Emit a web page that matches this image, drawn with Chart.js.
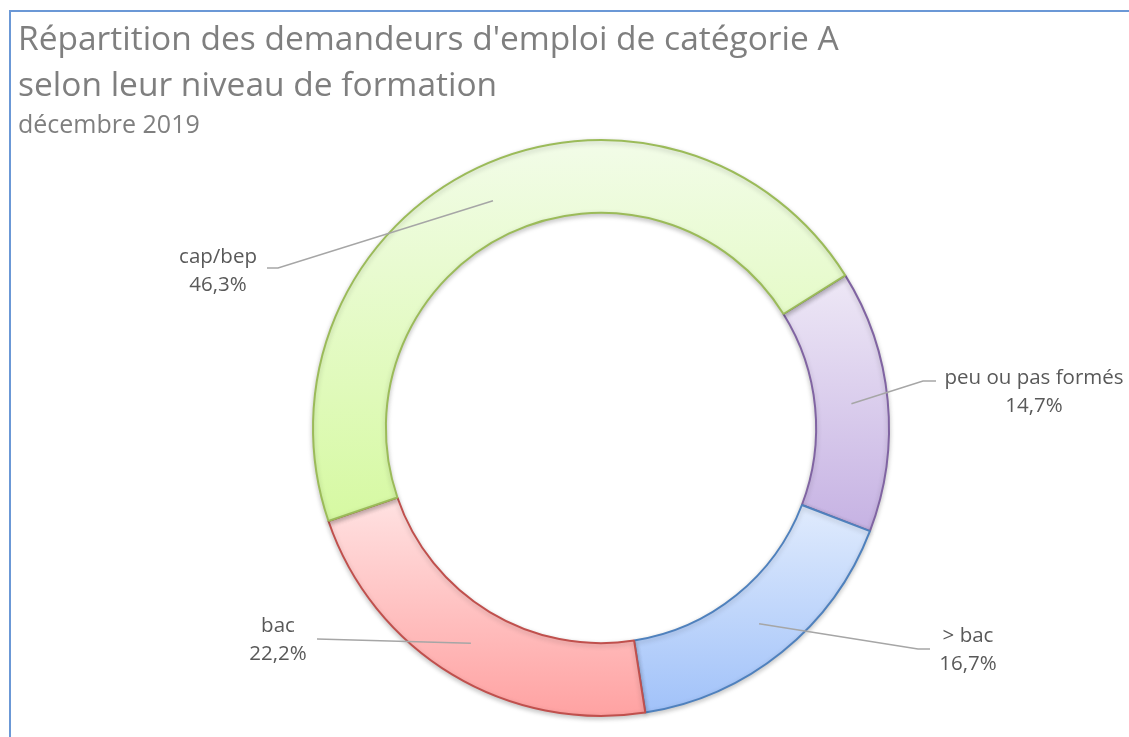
<!DOCTYPE html>
<html lang="fr">
<head>
<meta charset="utf-8">
<title>Répartition des demandeurs d'emploi</title>
<script src="https://cdn.jsdelivr.net/npm/chart.js@4/dist/chart.umd.min.js"></script>
<style>
  html, body { margin: 0; padding: 0; background: #fff; }
  body { width: 1129px; height: 737px; overflow: hidden; position: relative; }
  #frame {
    position: absolute; left: 9px; top: 10px; width: 1200px; height: 800px;
    border-top: 2px solid #6b98d6; border-left: 2px solid #6b98d6;
  }
  #chart { position: absolute; left: 0; top: 0; }
</style>
</head>
<body>
<div id="frame"></div>
<canvas id="chart" width="1129" height="737"></canvas>
<script>
(function(){
  'use strict';

  // data
  var categories = ['peu ou pas formés', '> bac', 'bac', 'cap/bep'];
  var shares = [14.7, 16.7, 22.2, 46.3];

  var titleLines = ["Répartition des demandeurs d'emploi de catégorie A", 'selon leur niveau de formation'];
  var subtitle = 'décembre 2019';

  // styles
  var borderColors = ['#8064a2', '#4f81bd', '#c0504d', '#9bbb59'];
  var fillTop = ['#eee8f6', '#e0ebfd', '#ffe2e2', '#f2fce8'];
  var fillBottom = ['#c6b2e3', '#a1c2f9', '#ffa2a2', '#d6f9a2'];

  // label layout: text centre, then leader end near the text and its elbow
  var labelPos = [
    { x: 1034, y: 378, end: [936, 381], elbow: [923, 381] },
    { x: 968, y: 636, end: [930, 649], elbow: [918, 649] },
    { x: 278, y: 626, end: [317, 639], elbow: [317, 639] },
    { x: 218, y: 257, end: [267, 268], elbow: [278, 268] }
  ];

  function fmt(v) {
    return v.toFixed(1).replace('.', ',') + '%';
  }

  var gradientFill = {
    id: 'gradientFill',
    beforeDatasetsDraw: function(chart) {
      var ctx = chart.ctx;
      chart.getDatasetMeta(0).data.forEach(function(el, i) {
        var p = el.getProps(['x', 'y', 'startAngle', 'endAngle', 'innerRadius', 'outerRadius'], true);
        var yMin = Infinity, yMax = -Infinity;
        for (var k = 0; k <= 40; k++) {
          var a = p.startAngle + (p.endAngle - p.startAngle) * k / 40;
          [p.innerRadius, p.outerRadius].forEach(function(r) {
            var y = p.y + Math.sin(a) * r;
            if (y < yMin) yMin = y;
            if (y > yMax) yMax = y;
          });
        }
        var g = ctx.createLinearGradient(0, yMin, 0, yMax);
        g.addColorStop(0, fillTop[i]);
        g.addColorStop(1, fillBottom[i]);
        el.options = Object.assign({}, el.options, { backgroundColor: g });
      });
    },
    beforeDatasetDraw: function(chart) {
      var ctx = chart.ctx;
      ctx.save();
      ctx.shadowColor = 'rgba(0,0,0,0.22)';
      ctx.shadowBlur = 5;
      ctx.shadowOffsetY = 2;
    },
    afterDatasetDraw: function(chart) {
      chart.ctx.restore();
    }
  };

  var textPlugin = {
    id: 'textPlugin',
    afterDatasetsDraw: function(chart) {
      var ctx = chart.ctx;
      ctx.save();

      // titles
      ctx.fillStyle = '#7f7f7f';
      ctx.textAlign = 'left';
      ctx.textBaseline = 'alphabetic';
      ctx.font = '33.5px "Open Sans"';
      ctx.fillText(titleLines[0], 18, 50);
      ctx.fillText(titleLines[1], 18, 96);
      ctx.font = '25px "Open Sans"';
      ctx.fillText(subtitle, 18, 133);

      // leader lines + labels
      chart.getDatasetMeta(0).data.forEach(function(el, i) {
        var c = el.getCenterPoint();
        var lp = labelPos[i];
        ctx.strokeStyle = '#a6a6a6';
        ctx.lineWidth = 1.5;
        ctx.beginPath();
        ctx.moveTo(lp.end[0], lp.end[1]);
        ctx.lineTo(lp.elbow[0], lp.elbow[1]);
        ctx.lineTo(c.x, c.y);
        ctx.stroke();

        ctx.fillStyle = '#595959';
        ctx.font = '20.5px "Open Sans"';
        ctx.textAlign = 'center';
        ctx.textBaseline = 'middle';
        ctx.fillText(categories[i], lp.x, lp.y);
        ctx.fillText(fmt(shares[i]), lp.x, lp.y + 28);
      });
      ctx.restore();
    }
  };

  new Chart(document.getElementById('chart'), {
    type: 'doughnut',
    data: {
      labels: categories,
      datasets: [{
        data: shares,
        backgroundColor: fillTop,
        borderColor: borderColors,
        borderWidth: 2
      }]
    },
    options: {
      responsive: false,
      animation: false,
      rotation: 58,
      cutout: '74.7%',
      layout: {
        padding: { left: 312, right: 239, top: 139, bottom: 20 }
      },
      plugins: {
        legend: { display: false },
        tooltip: { enabled: false }
      }
    },
    plugins: [gradientFill, textPlugin]
  });

}());
</script>
</body>
</html>
